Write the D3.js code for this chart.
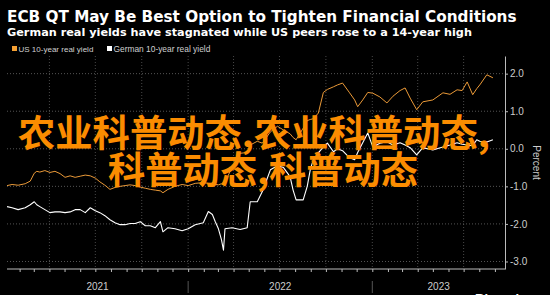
<!DOCTYPE html>
<html>
<head>
<meta charset="utf-8">
<script src="https://cdn.jsdelivr.net/npm/d3@7"></script>
<style>
  html, body { margin: 0; padding: 0; background: #000; }
  svg { display: block; }
</style>
</head>
<body>
<script>
// data (roughly every 10 days)
var dates = ["2021-01-07","2021-01-17","2021-01-29","2021-02-12","2021-02-22","2021-03-02","2021-03-07","2021-03-13","2021-03-23","2021-04-02",
  "2021-04-12","2021-04-22","2021-05-02","2021-05-12","2021-05-22","2021-06-01","2021-06-11","2021-06-21","2021-07-01","2021-07-10",
  "2021-07-20","2021-07-30","2021-08-09","2021-08-19","2021-08-29","2021-09-08","2021-09-18","2021-09-28","2021-10-08","2021-10-18",
  "2021-10-28","2021-11-07","2021-11-12","2021-11-22","2021-12-06","2021-12-20","2022-01-01","2022-01-15","2022-01-31","2022-02-10",
  "2022-02-18","2022-02-24","2022-03-02","2022-03-08","2022-03-12","2022-03-15","2022-03-29","2022-04-14","2022-04-28","2022-05-04",
  "2022-05-18","2022-05-28","2022-06-05","2022-06-13","2022-06-27","2022-07-09","2022-07-22","2022-07-28","2022-08-03","2022-08-17",
  "2022-08-25","2022-08-31","2022-09-06","2022-09-16","2022-09-26","2022-10-04","2022-10-16","2022-10-24","2022-11-03","2022-11-17",
  "2022-11-27","2022-12-03","2022-12-13","2022-12-23","2023-01-02","2023-01-16","2023-01-30","2023-02-11","2023-02-25","2023-03-07",
  "2023-03-17","2023-03-30","2023-04-11","2023-05-01","2023-05-21","2023-06-04","2023-06-18","2023-06-28","2023-07-08","2023-07-19",
  "2023-07-27","2023-08-02","2023-08-16","2023-08-28"];

var usYield = [-0.98,-0.95,-0.97,-0.93,-0.86,-0.65,-0.60,-0.62,-0.58,-0.63,
  -0.60,-0.66,-0.76,-0.72,-0.76,-0.73,-0.70,-0.72,-0.78,-0.88,
  -0.97,-1.08,-1.03,-1.00,-0.98,-0.96,-0.98,-1.02,-1.05,-1.08,
  -1.10,-1.12,-1.17,-1.08,-1.00,-0.95,-0.98,-0.92,-0.90,-0.92,
  -0.93,-0.95,-0.96,-0.93,-0.90,-0.88,-0.50,-0.12,-0.10,0.10,
  0.20,0.15,0.30,0.45,0.60,0.50,0.40,0.30,0.24,0.55,
  0.75,0.78,0.80,0.95,1.50,1.58,1.65,1.70,1.75,1.49,
  1.30,1.12,1.30,1.50,1.48,1.38,1.22,1.40,1.55,1.62,
  1.35,1.04,1.25,1.30,1.49,1.45,1.57,1.55,1.78,1.44,
  1.60,1.70,1.97,1.89];

var deYield = [-1.54,-1.57,-1.62,-1.57,-1.49,-1.41,-1.49,-1.54,-1.62,-1.70,
  -1.68,-1.68,-1.70,-1.68,-1.62,-1.62,-1.70,-1.57,-1.65,-1.70,
  -1.78,-1.89,-1.97,-2.02,-2.02,-1.99,-1.99,-1.94,-2.05,-2.05,
  -2.10,-1.94,-2.21,-2.10,-2.13,-2.18,-2.13,-2.02,-1.97,-1.67,
  -1.75,-1.95,-2.13,-2.42,-2.70,-2.13,-2.10,-2.15,-2.10,-1.41,
  -1.41,-1.14,-0.85,-0.56,-0.45,-0.50,-0.74,-1.10,-1.36,-1.36,
  -1.00,-0.56,-0.29,-0.11,0.05,0.15,-0.08,0.00,-0.05,-0.24,
  -0.29,-0.10,0.16,0.42,0.05,0.15,0.19,0.10,0.16,0.10,
  0.03,-0.16,0.03,-0.03,0.05,0.10,0.16,0.12,0.10,0.08,
  0.24,0.20,0.18,0.24];

var yTicks = [2, 1, 0, -1, -2, -3];
var years = ["2021", "2022", "2023"];
var seriesNames = ["US 10-year real yield", "German 10-year real yield"];
var seriesColors = ["#eb9a38", "#ffffff"];
var watermark = ["农业科普动态,农业科普动态,", "科普动态,科普动态"];

var W = 550, H = 295;
// plot box (window.top is reserved, so use px* names)
var pxL = 7, pxR = 505, pxT = 56, pxB = 269;

var svg = d3.select("body").append("svg")
  .attr("width", W)
  .attr("height", H)
  .style("background", "#000");

// fit a text element to a given width by changing its font size
function fit(sel, width) {
  var w = sel.node().getComputedTextLength();
  var fs = parseFloat(sel.attr("font-size"));
  sel.attr("font-size", fs * width / w);
}

// titles
var t1 = svg.append("text")
  .attr("x", 7).attr("y", 22)
  .attr("fill", "#fff")
  .attr("font-family", "DejaVu Sans")
  .attr("font-weight", "bold")
  .attr("font-size", 17)
  .text("ECB QT May Be Best Option to Tighten Financial Conditions");
fit(t1, 510);

var t2 = svg.append("text")
  .attr("x", 7).attr("y", 36)
  .attr("fill", "#fff")
  .attr("font-family", "DejaVu Sans")
  .attr("font-weight", "bold")
  .attr("font-size", 12)
  .text("German real yields have stagnated while US peers rose to a 14-year high");
fit(t2, 465);

// legend
var legX = [12, 107], legW = [75, 97];
seriesNames.forEach(function(name, i) {
  svg.append("rect")
    .attr("x", legX[i]).attr("y", 46)
    .attr("width", 5).attr("height", 5)
    .attr("fill", i === 0 ? "#f5a033" : "#fff");
  var lt = svg.append("text")
    .attr("x", legX[i] + 6.5).attr("y", 51.5)
    .attr("fill", "#d0d0d0")
    .attr("font-family", "Liberation Sans")
    .attr("font-size", 8)
    .text(name);
  fit(lt, legW[i]);
});

// scales
var parse = d3.timeParse("%Y-%m-%d");
var x = d3.scaleTime()
  .domain([new Date(2021, 0, 1), new Date(2023, 8, 21)])
  .range([4, pxR]);
var y = d3.scaleLinear()
  .domain([-3.2, 2.47])
  .range([pxB, pxT]);

// grid
var quarters = d3.timeMonth.every(3).range(new Date(2021, 1, 1), new Date(2023, 8, 21));
svg.append("g").selectAll("line")
  .data(quarters)
  .enter().append("line")
  .attr("x1", function(d) { return x(d); })
  .attr("x2", function(d) { return x(d); })
  .attr("y1", pxT)
  .attr("y2", pxB)
  .attr("stroke", "#5a5a5a")
  .attr("stroke-width", 0.8)
  .attr("stroke-dasharray", "1,2");

svg.append("g").selectAll("line")
  .data(yTicks)
  .enter().append("line")
  .attr("x1", pxL)
  .attr("x2", pxR)
  .attr("y1", function(d) { return y(d); })
  .attr("y2", function(d) { return y(d); })
  .attr("stroke", "#6a6a6a")
  .attr("stroke-width", 0.8)
  .attr("stroke-dasharray", "1,2");

// lines
svg.append("clipPath").attr("id", "clip")
  .append("rect")
  .attr("x", pxL).attr("y", pxT)
  .attr("width", pxR - pxL).attr("height", pxB - pxT);

var line = d3.line()
  .x(function(d) { return x(d[0]); })
  .y(function(d) { return y(d[1]); });

[usYield, deYield].forEach(function(vals, i) {
  var pts = dates.map(function(d, j) { return [parse(d), vals[j]]; });
  svg.append("path")
    .datum(pts)
    .attr("clip-path", "url(#clip)")
    .attr("fill", "none")
    .attr("stroke", seriesColors[i])
    .attr("stroke-width", i === 0 ? 1 : 1.1)
    .attr("stroke-linejoin", "round")
    .attr("d", line);
});

// right axis
var yAxis = svg.append("g")
  .attr("transform", "translate(" + pxR + ",0)")
  .call(d3.axisRight(y)
    .tickValues(yTicks)
    .tickSize(3)
    .tickSizeOuter(0)
    .tickPadding(2)
    .tickFormat(function(d) { return d.toFixed(1); }));
yAxis.select(".domain").attr("stroke", "#bbb");
yAxis.selectAll(".tick line").attr("stroke", "#bbb");
yAxis.selectAll(".tick text")
  .attr("fill", "#ccc")
  .attr("font-family", "Liberation Sans")
  .attr("font-size", 10);

svg.append("text")
  .attr("transform", "translate(533," + ((pxT + pxB) / 2) + ") rotate(90)")
  .attr("text-anchor", "middle")
  .attr("fill", "#ccc")
  .attr("font-family", "Liberation Sans")
  .attr("font-size", 10)
  .text("Percent");

// bottom axis: monthly ticks
var months = d3.timeMonth.range(new Date(2021, 1, 1), new Date(2023, 8, 21));
var xAxis = svg.append("g")
  .attr("transform", "translate(0," + pxB + ")")
  .call(d3.axisBottom(x)
    .tickValues(months)
    .tickSize(3)
    .tickFormat(""));
xAxis.select(".domain").remove();
xAxis.selectAll(".tick line").attr("stroke", "#bbb");
svg.append("line")
  .attr("x1", pxL).attr("x2", pxR)
  .attr("y1", pxB).attr("y2", pxB)
  .attr("stroke", "#bbb");

// year labels and separators
years.forEach(function(yr, i) {
  var a = Math.max(pxL, x(new Date(+yr, 0, 1)));
  var b = Math.min(pxR, x(new Date(+yr + 1, 0, 1)));
  svg.append("text")
    .attr("x", (a + b) / 2).attr("y", 290)
    .attr("text-anchor", "middle")
    .attr("fill", "#ccc")
    .attr("font-family", "Liberation Sans")
    .attr("font-size", 10)
    .text(yr);
  if (i > 0) {
    svg.append("line")
      .attr("x1", a).attr("x2", a)
      .attr("y1", 281).attr("y2", 293)
      .attr("stroke", "#555");
  }
});

svg.append("text")
  .attr("x", 475).attr("y", 303)
  .attr("fill", "#fff")
  .attr("font-family", "Liberation Sans")
  .attr("font-weight", "bold")
  .attr("font-size", 13)
  .text("Bloomberg");

// watermark text over the chart
var wmX = [18, 108], wmY = [147, 184], wmW = [472, 310];
watermark.forEach(function(s, i) {
  var wt = svg.append("text")
    .attr("x", wmX[i]).attr("y", wmY[i])
    .attr("fill", "#fb8c00")
    .attr("font-family", "Noto Sans CJK SC")
    .attr("font-weight", "bold")
    .attr("font-size", 37)
    .text(s);
  fit(wt, wmW[i]);
});
</script>
</body>
</html>
